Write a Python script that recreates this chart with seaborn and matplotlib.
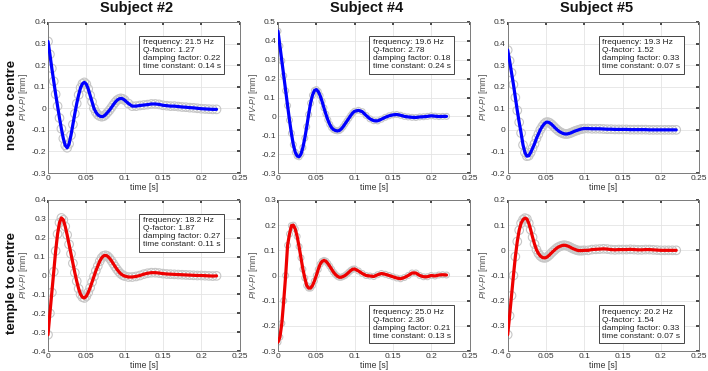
import numpy as np
import pandas as pd
import matplotlib
matplotlib.use("Agg")
import matplotlib.pyplot as plt
from matplotlib.ticker import FuncFormatter
import seaborn as sns

# sampling instants [s]: 2.5 ms up to 0.1 s, then 5 ms
time_s = [0.0000, 0.0025, 0.0050, 0.0075, 0.0100, 0.0125, 0.0150, 0.0175, 0.0200, 0.0225,
          0.0250, 0.0275, 0.0300, 0.0325, 0.0350, 0.0375, 0.0400, 0.0425, 0.0450, 0.0475,
          0.0500, 0.0525, 0.0550, 0.0575, 0.0600, 0.0625, 0.0650, 0.0675, 0.0700, 0.0725,
          0.0750, 0.0775, 0.0800, 0.0825, 0.0850, 0.0875, 0.0900, 0.0925, 0.0950, 0.0975,
          0.1000,
          0.105, 0.110, 0.115, 0.120, 0.125, 0.130, 0.135, 0.140, 0.145, 0.150,
          0.155, 0.160, 0.165, 0.170, 0.175, 0.180, 0.185, 0.190, 0.195, 0.200,
          0.205, 0.210, 0.215, 0.220]

# nose to centre
nose_s2 = [0.31, 0.25, 0.185, 0.125, 0.065, 0.01, -0.045, -0.095, -0.14, -0.172,
           -0.183, -0.165, -0.125, -0.075, -0.025, 0.022, 0.062, 0.095, 0.114, 0.12,
           0.112, 0.09, 0.06, 0.03, 0.0, -0.018, -0.03, -0.036, -0.039, -0.037,
           -0.03, -0.02, -0.01, 0.002, 0.015, 0.027, 0.037, 0.043, 0.046, 0.044,
           0.038,
           0.022, 0.01, 0.01, 0.013, 0.015, 0.017, 0.02, 0.02, 0.018, 0.014,
           0.012, 0.01, 0.01, 0.008, 0.006, 0.005, 0.003, 0.002, 0.0, -0.002,
           -0.003, -0.004, -0.005, -0.005]
nose_s4 = [0.452, 0.373, 0.294, 0.215, 0.136, 0.057, -0.02, -0.09, -0.15, -0.19,
           -0.21, -0.214, -0.2, -0.165, -0.115, -0.055, 0.01, 0.07, 0.112, 0.137,
           0.142, 0.132, 0.11, 0.08, 0.045, 0.012, -0.018, -0.042, -0.06, -0.07,
           -0.075, -0.077, -0.075, -0.067, -0.055, -0.04, -0.025, -0.01, 0.005, 0.018,
           0.027,
           0.032, 0.025, 0.005, -0.013, -0.023, -0.024, -0.015, -0.005, 0.003, 0.008,
           0.01, 0.006, 0.0, -0.003, -0.005, -0.006, -0.003, -0.002, 0.0, 0.003,
           0.001, -0.001, 0.0, 0.0]
nose_s5 = [0.37, 0.32, 0.265, 0.21, 0.15, 0.09, 0.035, -0.015, -0.07, -0.105,
           -0.122, -0.12, -0.105, -0.085, -0.065, -0.04, -0.02, 0.0, 0.015, 0.027,
           0.035, 0.036, 0.032, 0.025, 0.016, 0.007, -0.001, -0.008, -0.013, -0.017,
           -0.019, -0.019, -0.017, -0.014, -0.01, -0.006, -0.003, 0.0, 0.003, 0.005,
           0.006,
           0.006, 0.005, 0.005, 0.005, 0.004, 0.003, 0.003, 0.002, 0.002, 0.002,
           0.002, 0.001, 0.001, 0.001, 0.001, 0.001, 0.0, 0.0, 0.0, 0.0,
           0.0, 0.0, 0.0, 0.0]

# temple to centre
temple_s2 = [-0.314, -0.2, -0.09, 0.02, 0.13, 0.22, 0.28, 0.305, 0.295, 0.26,
             0.215, 0.165, 0.115, 0.065, 0.015, -0.03, -0.07, -0.1, -0.115, -0.119,
             -0.11, -0.09, -0.065, -0.035, -0.005, 0.025, 0.05, 0.075, 0.093, 0.104,
             0.107, 0.103, 0.093, 0.08, 0.064, 0.048, 0.033, 0.02, 0.009, 0.002,
             -0.003,
             -0.008, -0.008, -0.005, 0.0, 0.007, 0.012, 0.015, 0.015, 0.013, 0.01,
             0.008, 0.007, 0.006, 0.005, 0.004, 0.003, 0.002, 0.001, 0.0, 0.0,
             -0.001, -0.002, -0.003, -0.002]
temple_s4 = [-0.265, -0.245, -0.19, -0.1, 0.0, 0.12, 0.165, 0.198, 0.2, 0.185,
             0.155, 0.115, 0.07, 0.025, -0.01, -0.04, -0.05, -0.05, -0.04, -0.022,
             0.0, 0.024, 0.045, 0.056, 0.06, 0.057, 0.048, 0.037, 0.025, 0.013,
             0.004, -0.003, -0.007, -0.007, -0.004, 0.0, 0.006, 0.013, 0.02, 0.025,
             0.026,
             0.018, 0.008, 0.0, -0.002, -0.004, 0.003, 0.008, 0.005, 0.0, -0.005,
             -0.01, -0.013, -0.008, 0.0, 0.01, 0.01, 0.0, -0.005, -0.005, 0.0,
             -0.002, 0.002, 0.003, 0.002]
temple_s5 = [-0.335, -0.26, -0.18, -0.1, -0.025, 0.035, 0.08, 0.108, 0.122, 0.128,
             0.125, 0.108, 0.082, 0.052, 0.025, 0.003, -0.012, -0.022, -0.028, -0.03,
             -0.029, -0.024, -0.017, -0.009, -0.002, 0.005, 0.011, 0.015, 0.018, 0.02,
             0.02, 0.018, 0.015, 0.011, 0.007, 0.004, 0.001, -0.001, -0.001, -0.001,
             0.0,
             0.0, 0.003, 0.004, 0.005, 0.006, 0.005, 0.003, 0.002, 0.003, 0.003,
             0.003, 0.004, 0.003, 0.002, 0.002, 0.003, 0.003, 0.002, 0.001, 0.0,
             0.0, 0.0, 0.0, 0.0]

subjects = ["Subject #2", "Subject #4", "Subject #5"]
rows = ["nose to centre", "temple to centre"]
series = [[nose_s2, nose_s4, nose_s5], [temple_s2, temple_s4, temple_s5]]
ylims = [[(-0.3, 0.4), (-0.3, 0.5), (-0.2, 0.5)], [(-0.4, 0.4), (-0.3, 0.3), (-0.4, 0.2)]]

freq = [[21.5, 19.6, 19.3], [18.2, 25.0, 20.2]]
qfac = [[1.27, 2.78, 1.52], [1.87, 2.36, 1.54]]
damp = [[0.22, 0.18, 0.33], [0.27, 0.21, 0.33]]
tcon = [[0.14, 0.24, 0.07], [0.11, 0.13, 0.07]]
box_on_top = [[True, True, True], [True, False, False]]
# trial spread is much tighter for subject #4
circle_size = [38, 18, 38]

sns.set_theme(style="whitegrid")
plt.rcParams["font.family"] = ["Liberation Sans", "DejaVu Sans"]
plt.rcParams["mathtext.fontset"] = "custom"
plt.rcParams["mathtext.it"] = "Liberation Sans:italic"
plt.rcParams["mathtext.rm"] = "Liberation Sans"

fig = plt.figure(figsize=(7.08, 3.71), dpi=100)

lefts = [48 / 708, 278 / 708, 507.7 / 708]
bottoms = [1 - 173 / 371, 1 - 351 / 371]
w, h = 191.5 / 708, 151 / 371
line_colors = ["#0000ff", "#ee0000"]


def tick_fmt(v, pos):
    if abs(v) < 1e-9:
        return "0"
    return "%g" % round(v, 2)


for r in range(2):
    for c in range(3):
        ax = fig.add_axes([lefts[c], bottoms[r], w, h])
        df = pd.DataFrame({"t": time_s, "y": series[r][c]})
        sns.scatterplot(data=df, x="t", y="y", ax=ax, s=circle_size[c], marker="o",
                        facecolor="none", edgecolor="#c6c6c6", linewidth=0.8, zorder=2)
        sns.lineplot(data=df, x="t", y="y", ax=ax, color=line_colors[r],
                     linewidth=2.3, zorder=3)
        ax.set_xlim(0, 0.25)
        ax.set_ylim(*ylims[r][c])
        ax.set_xticks([0, 0.05, 0.1, 0.15, 0.2, 0.25])
        lo, hi = ylims[r][c]
        ax.set_yticks(np.round(np.arange(lo, hi + 1e-9, 0.1), 2))
        ax.xaxis.set_major_formatter(FuncFormatter(tick_fmt))
        ax.yaxis.set_major_formatter(FuncFormatter(tick_fmt))
        ax.tick_params(labelsize=6, colors="#333333", direction="in", length=2,
                       pad=1.5, top=True, right=True)
        ax.grid(True, color="#e4e4e4", linewidth=0.6)
        for sp in ax.spines.values():
            sp.set_color("#7a7a7a")
            sp.set_linewidth(0.7)
        ax.set_xlabel("time [s]", fontsize=6.2, color="#333333", labelpad=0.5)
        ax.set_ylabel(r"$\mathit{PIV}$-$\mathit{PI}$ [mm]", fontsize=6.2,
                      color="#555555", labelpad=1)
        txt = ("frequency: %.1f Hz\nQ-factor: %.2f\ndamping factor: %.2f\n"
               "time constant: %.2f s" % (freq[r][c], qfac[r][c], damp[r][c], tcon[r][c]))
        ypos, va = (0.885, "top") if box_on_top[r][c] else (0.075, "bottom")
        ax.text(0.495, ypos, txt, transform=ax.transAxes, va=va, ha="left",
                fontsize=6, linespacing=1.2, color="#222222", zorder=5,
                bbox=dict(boxstyle="square,pad=0.4", fc="white", ec="#444444", lw=0.7))

for c, name in enumerate(subjects):
    fig.text(lefts[c] + w / 2 - 7 / 708, 1 - 8 / 371, name, ha="center", va="center",
             fontsize=10.5, fontweight="bold", color="#111111")
for r, name in enumerate(rows):
    fig.text(12 / 708, bottoms[r] + h / 2 - 7 / 371, name, ha="center", va="center",
             rotation=90, fontsize=9.5, fontweight="bold", color="#111111")

fig.savefig("out.png", dpi=100)
